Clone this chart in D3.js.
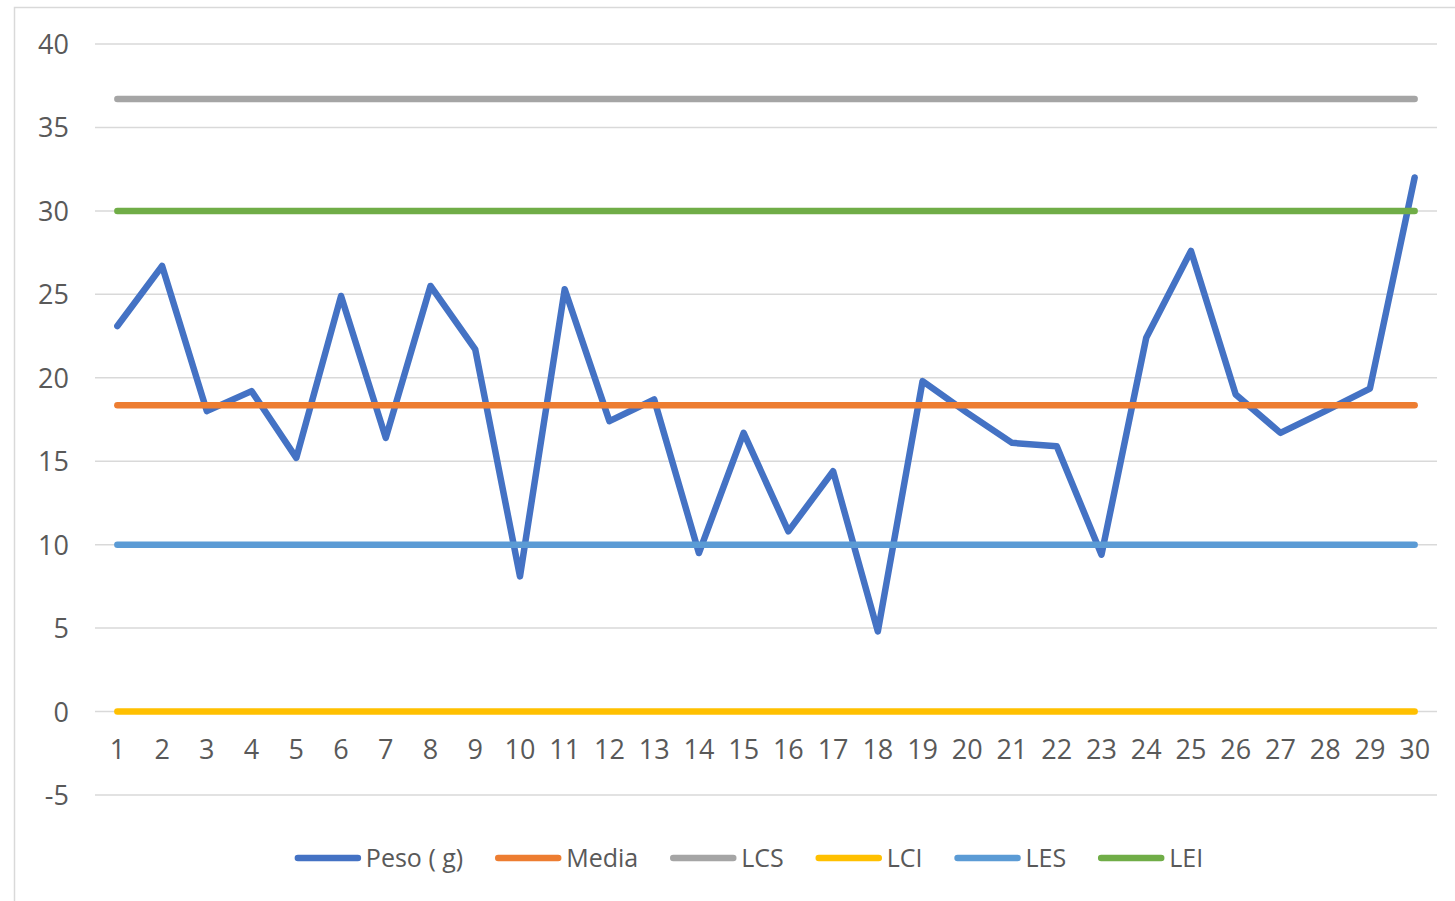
<!DOCTYPE html>
<html>
<head>
<meta charset="utf-8">
<script src="https://cdn.jsdelivr.net/npm/d3@7/dist/d3.min.js"></script>
<style>
  html, body { margin: 0; padding: 0; background: #fff; }
  svg { display: block; }
  text { font-family: "Open Sans", "Liberation Sans", sans-serif; fill: #595959; }
</style>
</head>
<body>
<svg id="chart" width="1455" height="901"></svg>
<script>
// Samples 1..30
const samples = d3.range(1, 31);
// Weight of each sample, grams
const peso = [23.1, 26.7, 18.0, 19.2, 15.2, 24.9, 16.4, 25.5, 21.7, 8.1,
              25.3, 17.4, 18.7, 9.5, 16.7, 10.8, 14.4, 4.8, 19.8, 17.9,
              16.1, 15.9, 9.4, 22.4, 27.6, 19.0, 16.7, 18.0, 19.35, 32.0];
// Control and specification limits
const media = 18.35;
const lcs = 36.7;
const lci = 0;
const les = 10;
const lei = 30;
const yTicks = [-5, 0, 5, 10, 15, 20, 25, 30, 35, 40];

const seriesNames = ["Peso ( g)", "Media", "LCS", "LCI", "LES", "LEI"];
const seriesColors = ["#4472C4", "#ED7D31", "#A5A5A5", "#FFC000", "#5B9BD5", "#70AD47"];
const limits = [media, lcs, lci, les, lei];

const svg = d3.select("#chart");

// chart frame
svg.append("path")
  .attr("d", "M14.5,901 V7.5 H1455")
  .attr("fill", "none")
  .attr("stroke", "#d9d9d9")
  .attr("stroke-width", 1.5);

const x = d3.scaleBand().domain(samples).range([95, 1437]);
const y = d3.scaleLinear().domain([-5, 40]).range([795, 44]);
const cx = d => x(d) + x.bandwidth() / 2;

// horizontal gridlines
svg.append("g").selectAll("line")
  .data(yTicks)
  .join("line")
  .attr("x1", 95).attr("x2", 1437)
  .attr("y1", d => y(d)).attr("y2", d => y(d))
  .attr("stroke", "#d9d9d9")
  .attr("stroke-width", 1.5);

// value axis labels (plain hyphen for negatives)
const yAxis = d3.axisLeft(y).tickValues(yTicks).tickFormat(d => String(d)).tickSize(0).tickPadding(0);
svg.append("g")
  .attr("transform", "translate(69,0)")
  .call(yAxis)
  .call(g => g.select(".domain").remove())
  .call(g => g.selectAll("text")
    .attr("font-size", 27)
    .attr("fill", "#595959")
    .attr("font-family", "'Open Sans', sans-serif")
    .attr("dy", "0.35em"));

// category labels
const xAxis = d3.axisBottom(x).tickSize(0).tickPadding(0);
svg.append("g")
  .attr("transform", "translate(0,740)")
  .call(xAxis)
  .call(g => g.select(".domain").remove())
  .call(g => g.selectAll("text")
    .attr("font-size", 27)
    .attr("fill", "#595959")
    .attr("font-family", "'Open Sans', sans-serif")
    .attr("dy", "0.71em"));

const line = d3.line().x(d => cx(d[0])).y(d => y(d[1]));

// weight series
svg.append("path")
  .datum(samples.map((s, i) => [s, peso[i]]))
  .attr("d", line)
  .attr("fill", "none")
  .attr("stroke", seriesColors[0])
  .attr("stroke-width", 6.5)
  .attr("stroke-linejoin", "round")
  .attr("stroke-linecap", "round");

// limit lines
limits.forEach((v, k) => {
  svg.append("path")
    .datum(samples.map(s => [s, v]))
    .attr("d", line)
    .attr("fill", "none")
    .attr("stroke", seriesColors[k + 1])
    .attr("stroke-width", 6.5)
    .attr("stroke-linecap", "round");
});

// legend
const legend = svg.append("g");
const legendY = 858;
const sampleLen = 66, textGap = 5, itemGap = 32;
let cursor = 0;
seriesNames.forEach((name, i) => {
  const g = legend.append("g");
  g.append("line")
    .attr("x1", cursor + 3).attr("x2", cursor + sampleLen - 3)
    .attr("y1", legendY).attr("y2", legendY)
    .attr("stroke", seriesColors[i])
    .attr("stroke-width", 6.5)
    .attr("stroke-linecap", "round");
  const t = g.append("text")
    .attr("x", cursor + sampleLen + textGap)
    .attr("y", legendY)
    .attr("dy", "0.35em")
    .attr("font-size", 25)
    .text(name);
  cursor += sampleLen + textGap + t.node().getComputedTextLength() + itemGap;
});
const total = cursor - itemGap;
legend.attr("transform", `translate(${749 - total / 2},0)`);
</script>
</body>
</html>
